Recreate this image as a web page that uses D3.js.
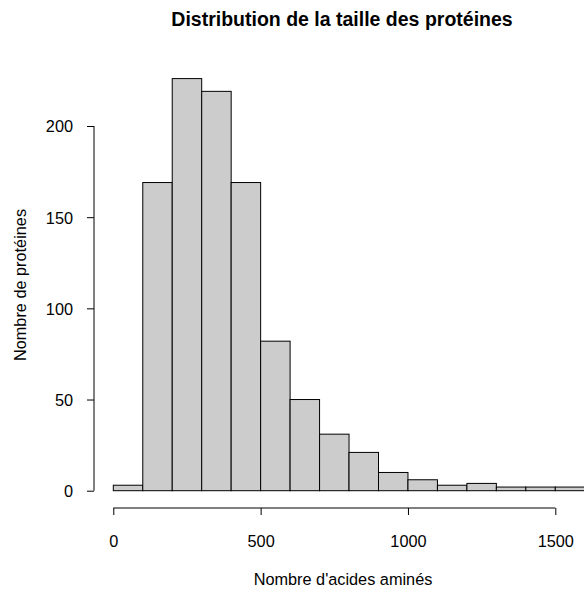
<!DOCTYPE html>
<html><head><meta charset="utf-8">
<script src="https://cdn.jsdelivr.net/npm/d3@7"></script>
<style>body{margin:0;background:#fff}svg{display:block}text{font-family:"Liberation Sans",Arial,sans-serif}</style>
</head><body>
<script>
const binStarts = [0,100,200,300,400,500,600,700,800,900,1000,1100,1200,1300,1400,1500];
const binWidth = 100;
const counts = [3,169,226,219,169,82,50,31,21,10,6,3,4,2,2,2];
const xTicks = [0,500,1000,1500];
const yTicks = [0,50,100,150,200];
const title = "Distribution de la taille des protéines";
const xLabel = "Nombre d'acides aminés";
const yLabel = "Nombre de protéines";

const W = 584, H = 595;
const svg = d3.select("body").append("svg").attr("width", W).attr("height", H);
const x = d3.scaleLinear().domain([0,1500]).range([113.3,555.3]);
const y = d3.scaleLinear().domain([0,200]).range([490.7,126]);
const fs = 16.3;

svg.append("g").selectAll("rect").data(counts).join("rect")
  .attr("x",(d,i)=>x(binStarts[i]))
  .attr("width",(d,i)=>x(binStarts[i]+binWidth)-x(binStarts[i]))
  .attr("y",d=>y(d)).attr("height",d=>y(0)-y(d))
  .attr("fill","#cccccc").attr("stroke","#000").attr("stroke-width",1);

const xa = svg.append("g").attr("transform","translate(0,508)")
  .call(d3.axisBottom(x).tickValues(xTicks).tickSize(7).tickFormat(d3.format("d")));
const ya = svg.append("g").attr("transform","translate(94,0)")
  .call(d3.axisLeft(y).tickValues(yTicks).tickSize(7).tickPadding(14).tickFormat(d3.format("d")));
[xa,ya].forEach(g=>{
  g.select(".domain").attr("stroke","#000");
  g.selectAll("text").attr("font-size",fs).attr("fill","#000").attr("font-family","Liberation Sans, Arial, sans-serif");
  g.selectAll("line").attr("stroke","#000");
});
xa.selectAll("text").attr("y",39).attr("dy",0);
ya.selectAll("text").attr("dy","0.36em");
xa.select(".domain").attr("d",`M${x(0)},0H${x(1500)}`);
ya.select(".domain").attr("d",`M0,${y(0)}V${y(200)}`);

svg.append("text").attr("x",342).attr("y",26).attr("text-anchor","middle")
  .attr("font-size",19.5).attr("font-weight","bold").text(title);
svg.append("text").attr("x",343).attr("y",585).attr("text-anchor","middle")
  .attr("font-size",fs).text(xLabel);
svg.append("text").attr("transform","translate(26,285) rotate(-90)").attr("text-anchor","middle")
  .attr("font-size",fs).text(yLabel);
</script>
</body></html>
